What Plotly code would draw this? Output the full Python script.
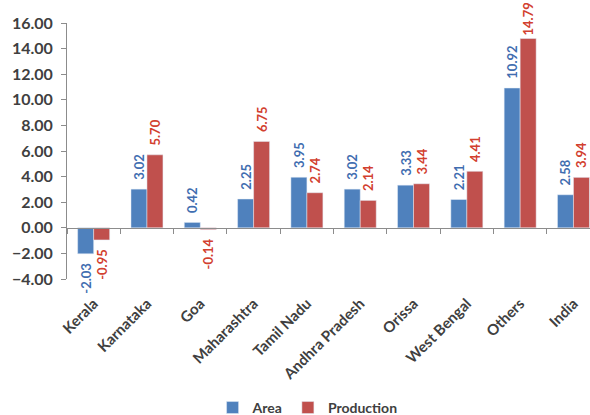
import plotly.graph_objects as go

states = ["Kerala", "Karnataka", "Goa", "Maharashtra", "Tamil Nadu",
          "Andhra Pradesh", "Orissa", "West Bengal", "Others", "India"]
area = [-2.03, 3.02, 0.42, 2.25, 3.95, 3.02, 3.33, 2.21, 10.92, 2.58]
production = [-0.95, 5.70, -0.14, 6.75, 2.74, 2.14, 3.44, 4.41, 14.79, 3.94]
y_ticks = [-4, -2, 0, 2, 4, 6, 8, 10, 12, 14, 16]

BLUE = "#4F81BD"
RED = "#C0504D"
FONT = "Lato"
TEXT = "#404040"
AXIS_GREY = "#8C8C8C"
Y_MIN, Y_MAX = -4, 16
PAD = "\u00a0\u00a0"  # spacing between bar end and its value label


def value_labels(values):
    # labels read bottom-to-top, so pad the side that faces the bar;
    # bars reaching near the top of the axis get no padding so the label stays on the page
    out = []
    for v in values:
        s = f"{v:.2f}"
        if v >= 0:
            out.append(s if v > Y_MAX - 2 else PAD + s)
        else:
            out.append(s + PAD)
    return out


fig = go.Figure()
fig.add_trace(go.Bar(
    name="Area", x=states, y=area, marker_color=BLUE,
    text=value_labels(area), textposition="outside", textangle=-90,
    textfont=dict(family=FONT, size=13, color="#3F6DB0", weight="bold"),
    constraintext="none", cliponaxis=False,
))
fig.add_trace(go.Bar(
    name="Production", x=states, y=production, marker_color=RED,
    text=value_labels(production), textposition="outside", textangle=-90,
    textfont=dict(family=FONT, size=13, color="#D2402F", weight="bold"),
    constraintext="none", cliponaxis=False,
))
# helper trace so the category axis drawn along y = 0 is rendered
fig.add_trace(go.Scatter(x=states, y=[None] * len(states), xaxis="x2",
                         showlegend=False, hoverinfo="skip", mode="markers"))

fig.update_layout(
    width=590, height=415,
    margin=dict(l=67, r=0, t=23, b=136),
    paper_bgcolor="white", plot_bgcolor="white",
    barmode="group", bargap=0.4, bargroupgap=0,
    uniformtext=dict(minsize=13, mode="show"),
    font=dict(family=FONT, size=14, color=TEXT),
    showlegend=True,
    legend=dict(orientation="h", x=0.46, xanchor="center",
                yref="container", y=0.017, yanchor="middle",
                font=dict(family=FONT, size=14, color=TEXT, weight="bold"),
                itemwidth=30, traceorder="normal"),
    xaxis=dict(type="category", range=[-0.5, 9.31], showline=False, ticks="",
               tickangle=-45, showgrid=False, zeroline=False, automargin=False,
               ticklabelstandoff=12,
               tickfont=dict(family=FONT, size=15, color=TEXT, weight="bold")),
    xaxis2=dict(overlaying="x", matches="x", anchor="free", position=0.2,
                showline=True, linecolor=AXIS_GREY, linewidth=1,
                ticks="outside", tickson="boundaries", ticklen=5, tickcolor=AXIS_GREY,
                showticklabels=False, showgrid=False, zeroline=False, automargin=False),
    yaxis=dict(range=[Y_MIN, Y_MAX], tickvals=y_ticks, tickformat=".2f",
               showline=True, linecolor=AXIS_GREY, linewidth=1,
               ticks="outside", ticklen=5, tickcolor=AXIS_GREY,
               showgrid=False, zeroline=False, automargin=False, ticklabelstandoff=5,
               tickfont=dict(family=FONT, size=16, color=TEXT, weight="bold")),
)

fig.write_html("out.html")
